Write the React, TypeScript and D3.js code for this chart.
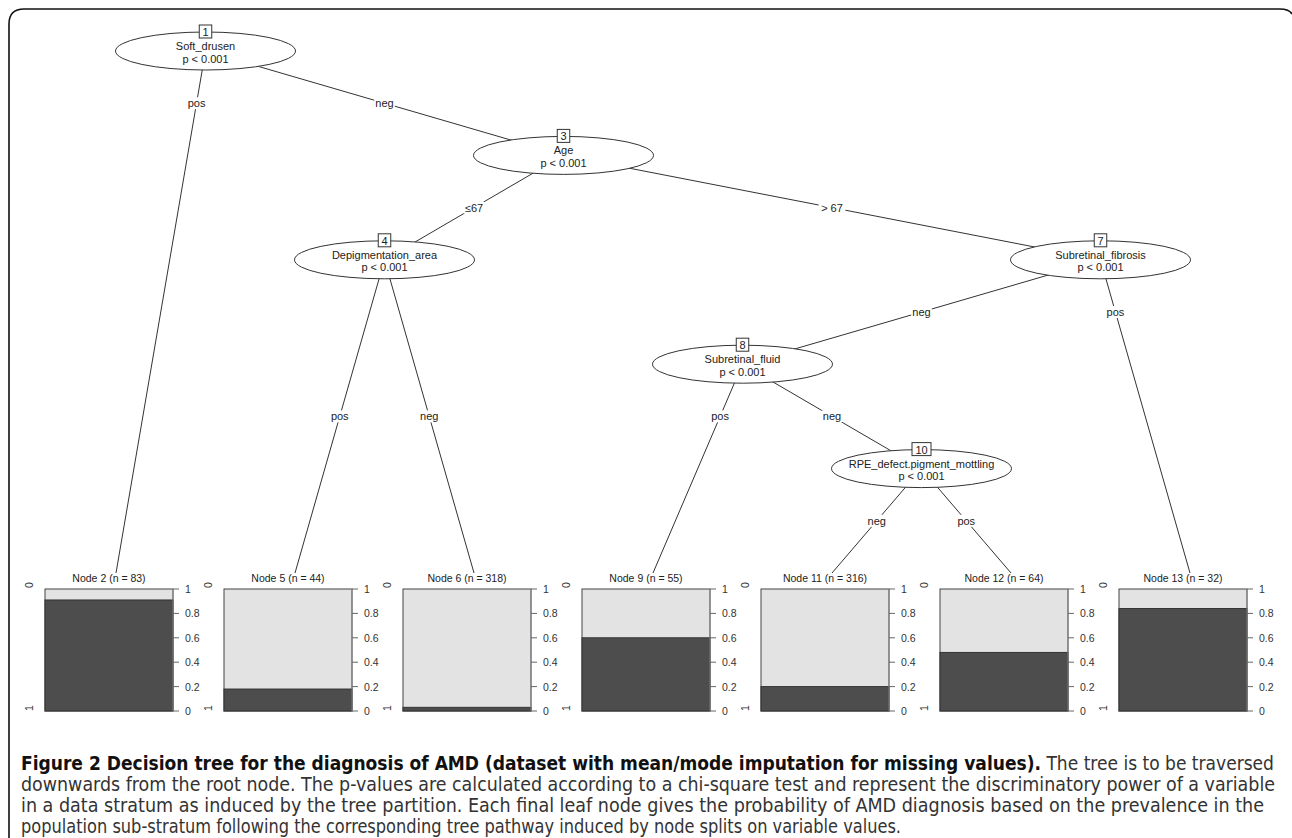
import * as d3 from "d3";

// inner (split) nodes
const innerIds = [1, 3, 4, 7, 8, 10];
const innerVars = [
  "Soft_drusen",
  "Age",
  "Depigmentation_area",
  "Subretinal_fibrosis",
  "Subretinal_fluid",
  "RPE_defect.pigment_mottling",
];
const innerPValues = ["p < 0.001", "p < 0.001", "p < 0.001", "p < 0.001", "p < 0.001", "p < 0.001"];

// terminal nodes
const leafIds = [2, 5, 6, 9, 11, 12, 13];
const leafN = [83, 44, 318, 55, 316, 64, 32];
const leafProb1 = [0.91, 0.18, 0.03, 0.6, 0.2, 0.48, 0.84]; // share of class "1" (dark)

// edges, listed left child first
const edgeParents = [1, 1, 3, 3, 4, 4, 7, 7, 8, 8, 10, 10];
const edgeChildren = [2, 3, 4, 7, 5, 6, 8, 13, 9, 10, 11, 12];
const edgeLabels = ["pos", "neg", "≤67", "> 67", "pos", "neg", "neg", "pos", "pos", "neg", "neg", "pos"];

const probTicks = [0, 0.2, 0.4, 0.6, 0.8, 1];
const classLabels = ["0", "1"];

const captionTitle =
  "Figure 2 Decision tree for the diagnosis of AMD (dataset with mean/mode imputation for missing values).";
const captionLines = [
  " The tree is to be traversed",
  "downwards from the root node. The p-values are calculated according to a chi-square test and represent the discriminatory power of a variable",
  "in a data stratum as induced by the tree partition. Each final leaf node gives the probability of AMD diagnosis based on the prevalence in the",
  "population sub-stratum following the corresponding tree pathway induced by node splits on variable values.",
];

const W = 1292;
const H = 838;
const FONT = "'Liberation Sans', Arial, Helvetica, sans-serif";
const CAP_FONT = "'Liberation Sans Narrow', 'DejaVu Sans Condensed', 'Open Sans', sans-serif";

type Row = { id: string; parent: string; label: string };

export default function App() {
  const rows: Row[] = [{ id: String(innerIds[0]), parent: "", label: "" }].concat(
    edgeChildren.map((c, i) => ({ id: String(c), parent: String(edgeParents[i]), label: edgeLabels[i] }))
  );
  const root = d3
    .stratify<Row>()
    .id((d) => d.id)
    .parentId((d) => d.parent || null)(rows);

  const leaves = root.leaves();
  const leafIndex = new Map<string, number>();
  leaves.forEach((l, i) => leafIndex.set(l.id!, i + 1));

  const xScale = d3.scaleLinear().domain([1, leaves.length]).range([116, 1190]);
  const depthScale = d3.scaleLinear().domain([0, 5]).range([51, 573]);
  const probScale = d3.scaleLinear().domain([0, 1]).range([711, 589]);

  const pos = new Map<string, { x: number; y: number; depth: number }>();
  root.eachAfter((n) => {
    let idx: number;
    if (!n.children) idx = leafIndex.get(n.id!)!;
    else {
      const left = n.children[0].leaves();
      const right = n.children[1].leaves();
      idx = (leafIndex.get(left[left.length - 1].id!)! + leafIndex.get(right[0].id!)!) / 2;
    }
    const y = n.children ? depthScale(n.depth) : depthScale(5);
    pos.set(n.id!, { x: xScale(idx), y, depth: n.depth });
  });

  const barW = 128;
  const rx = 90;
  const ry = 19;

  // label height: half way between the parent and its nearest child
  const edges = root.links().map((l) => {
    const p = pos.get(l.source.id!)!;
    const c = pos.get(l.target.id!)!;
    const nearest = d3.min(l.source.children!, (k) => pos.get(k.id!)!.y)!;
    const ly = (p.y + nearest) / 2;
    const lx = p.x + ((c.x - p.x) * (ly - p.y)) / (c.y - p.y);
    return { p, c, lx, ly, label: l.target.data.label };
  });

  return (
    <svg
      width={W}
      height={H}
      viewBox={`0 0 ${W} ${H}`}
      style={{ position: "absolute", left: 0, top: 0, background: "#fff" }}
    >
      <path d="M9,838 L9,24 Q9,9 24,9 L1280,9 Q1289,9 1292,14" fill="none" stroke="#111" strokeWidth={1.6} />

      {/* edges */}
      {edges.map((e, i) => (
        <line key={"e" + i} x1={e.p.x} y1={e.p.y} x2={e.c.x} y2={e.c.y} stroke="#333" strokeWidth={1} />
      ))}
      {edges.map((e, i) => {
        const w = e.label.length * 6.2 + 2;
        return (
          <g key={"el" + i}>
            <rect x={e.lx - w / 2} y={e.ly - 6} width={w} height={12} fill="#fff" />
            <text x={e.lx} y={e.ly + 4} textAnchor="middle" fontFamily={FONT} fontSize={11} fill="#222">
              {e.label}
            </text>
          </g>
        );
      })}

      {/* inner nodes */}
      {innerIds.map((id, i) => {
        const p = pos.get(String(id))!;
        const bw = String(id).length * 6.5 + 6;
        return (
          <g key={"n" + id}>
            <ellipse cx={p.x} cy={p.y} rx={rx} ry={ry} fill="#fff" stroke="#333" strokeWidth={1} />
            <text x={p.x} y={p.y - 1} textAnchor="middle" fontFamily={FONT} fontSize={11} fill="#222">
              {innerVars[i]}
            </text>
            <text x={p.x} y={p.y + 11.5} textAnchor="middle" fontFamily={FONT} fontSize={11} fill="#222">
              {innerPValues[i]}
            </text>
            <rect x={p.x - bw / 2} y={p.y - ry - 7} width={bw} height={13} fill="#fff" stroke="#333" strokeWidth={1} />
            <text x={p.x} y={p.y - ry + 4} textAnchor="middle" fontFamily={FONT} fontSize={11} fill="#222">
              {id}
            </text>
          </g>
        );
      })}

      {/* terminal nodes */}
      {leafIds.map((id, i) => {
        const p = pos.get(String(id))!;
        const bx = p.x - 7 - barW / 2;
        const right = bx + barW;
        return (
          <g key={"l" + id}>
            <text x={bx + barW / 2} y={582} textAnchor="middle" fontFamily={FONT} fontSize={10.5} fill="#222">
              {`Node ${id} (n = ${leafN[i]})`}
            </text>
            <rect x={bx} y={probScale(1)} width={barW} height={probScale(0) - probScale(1)} fill="#e3e3e3" stroke="#444" strokeWidth={1} />
            <rect
              x={bx}
              y={probScale(leafProb1[i])}
              width={barW}
              height={probScale(0) - probScale(leafProb1[i])}
              fill="#4d4d4d"
              stroke="#333"
              strokeWidth={1}
            />
            <line x1={right} x2={right} y1={probScale(0)} y2={probScale(1)} stroke="#888" strokeWidth={1} />
            {probTicks.map((t) => (
              <g key={t}>
                <line x1={right} x2={right + 6} y1={probScale(t)} y2={probScale(t)} stroke="#666" />
                <text x={right + 12} y={probScale(t) + 4} fontFamily={FONT} fontSize={10.5} fill="#333">
                  {String(t)}
                </text>
              </g>
            ))}
            <text
              transform={`translate(${bx - 12},${probScale(1) - 4}) rotate(-90)`}
              textAnchor="middle"
              fontFamily={FONT}
              fontSize={10.5}
              fill="#333"
            >
              {classLabels[0]}
            </text>
            <text
              transform={`translate(${bx - 12},${probScale(0) - 3}) rotate(-90)`}
              textAnchor="middle"
              fontFamily={FONT}
              fontSize={10.5}
              fill="#333"
            >
              {classLabels[1]}
            </text>
          </g>
        );
      })}

      {/* caption */}
      <text x={21} y={770} fontFamily={CAP_FONT} fontSize={19} textLength={1253} lengthAdjust="spacingAndGlyphs">
        <tspan fontWeight="bold" fill="#111">{captionTitle}</tspan>
        <tspan fill="#333">{captionLines[0]}</tspan>
      </text>
      {captionLines.slice(1).map((l, i) => (
        <text
          key={i}
          x={21}
          y={791 + i * 21}
          fontFamily={CAP_FONT}
          fontSize={19}
          fill="#333"
          textLength={[1254, 1243, 880][i]}
          lengthAdjust="spacingAndGlyphs"
        >
          {l}
        </text>
      ))}
    </svg>
  );
}
